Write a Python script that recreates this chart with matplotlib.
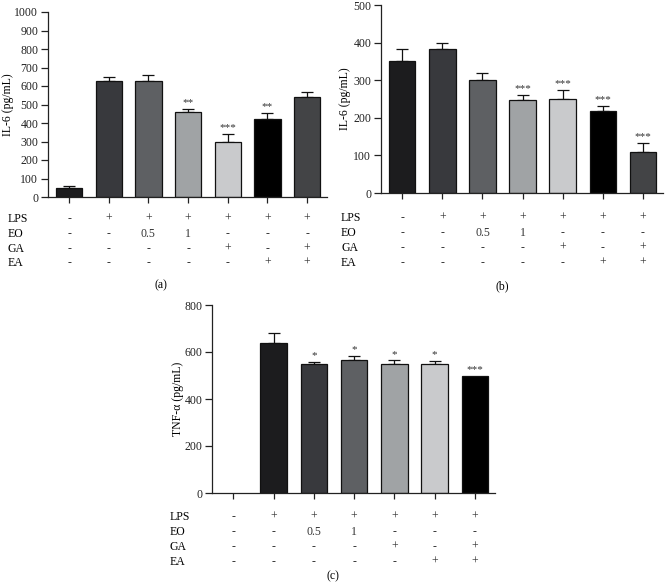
import matplotlib
matplotlib.use('Agg')
import matplotlib.pyplot as plt
import matplotlib.transforms as mtransforms

plt.rcParams['font.family'] = ['Liberation Serif', 'DejaVu Serif']

# treatment table rows (same for every panel)
row_names = ['LPS', 'EO', 'GA', 'EA']
rows = [['-', '+', '+', '+', '+', '+', '+'],
        ['-', '-', '0.5', '1', '-', '-', '-'],
        ['-', '-', '-', '-', '+', '-', '+'],
        ['-', '-', '-', '-', '-', '+', '+']]

# panel (a) IL-6
a_vals = [48, 627, 627, 458, 295, 420, 539]
a_err = [11, 22, 31, 19, 47, 34, 29]
a_stars = ['', '', '', '**', '***', '**', '']

# panel (b) IL-6
b_vals = [351, 382, 300, 247, 251, 217, 109]
b_err = [31, 18, 18, 14, 24, 15, 24]
b_stars = ['', '', '', '***', '***', '***', '***']

# panel (c) TNF-a
c_vals = [0, 637, 550, 567, 551, 551, 500]
c_err = [0, 42, 9, 16, 13, 12, 0]
c_stars = ['', '', '*', '*', '*', '*', '***']

a_colors = ['#1c1c1e', '#38393d', '#5e6063', '#a0a3a5', '#c9cacc', '#000000', '#434446']
c_colors = ['#ffffff', '#1c1c1e', '#38393d', '#5e6063', '#a0a3a5', '#c9cacc', '#000000']

W, H = 665, 588
fig = plt.figure(figsize=(W / 100, H / 100), dpi=100)


def px_axes(left, top, right, bottom):
    return fig.add_axes([left / W, 1 - bottom / H, (right - left) / W, (bottom - top) / H])


def panel(ax, vals, err, stars, colors, ymax, step, ylabel, star_off,
          row_x, row_y, ylab_x, tag, tag_xy, skip_first=False):
    x = list(range(len(vals)))
    ec = ['none' if (skip_first and i == 0) else '#111111' for i in x]
    ax.bar(x, vals, width=0.66, color=colors, edgecolor=ec, linewidth=0.9, zorder=2)
    for i in x:
        if err[i] > 0:
            ax.errorbar(i, vals[i], yerr=[[0], [err[i]]], fmt='none', ecolor='#111111',
                        elinewidth=0.9, capsize=4.5, capthick=0.9, zorder=1)
        if stars[i]:
            ax.text(i, vals[i] + err[i] + star_off, stars[i], ha='center', va='bottom',
                    fontsize=8, color='#333333')
    ax.set_xlim(-0.53, 6.5)
    ax.set_ylim(0, ymax)
    ax.set_yticks(range(0, ymax + 1, step))
    ax.set_xticks(x)
    ax.set_xticklabels([])
    for s in ['top', 'right']:
        ax.spines[s].set_visible(False)
    for s in ['left', 'bottom']:
        ax.spines[s].set_linewidth(0.9)
        ax.spines[s].set_color('#222222')
    ax.tick_params(axis='y', length=5, width=0.9, labelsize=8.5, pad=2, colors='#222222')
    ax.tick_params(axis='x', length=4, width=0.9, colors='#222222')

    # y label, placed in figure pixels
    lab_tr = mtransforms.blended_transform_factory(fig.transFigure, ax.transAxes)
    ax.text(ylab_x / W, 0.5, ylabel, transform=lab_tr, rotation=90,
            ha='center', va='center', fontsize=8.5)

    tr = mtransforms.blended_transform_factory(ax.transData, fig.transFigure)
    for r, name in enumerate(row_names):
        yy = 1 - row_y[r] / H
        fig.text(row_x / W, yy, name, ha='left', va='center', fontsize=8.5)
        for i in x:
            ax.text(i, yy, rows[r][i], transform=tr, ha='center', va='center',
                    fontsize=8.5, color='#333333', clip_on=False)
    fig.text(tag_xy[0] / W, 1 - tag_xy[1] / H, tag, ha='center', va='center', fontsize=8.5)


ax_a = px_axes(48, 12, 327, 197)
panel(ax_a, a_vals, a_err, a_stars, a_colors, 1000, 100, 'IL-6 (pg/mL)', 8,
      8, [219, 234, 249, 263], 8, '(a)', (161, 285))

ax_b = px_axes(381, 5, 663, 193)
panel(ax_b, b_vals, b_err, b_stars, a_colors, 500, 100, 'IL-6 (pg/mL)', 4,
      341, [218, 233, 248, 263], 345, '(b)', (502, 286))

ax_c = px_axes(212, 305, 495, 493)
panel(ax_c, c_vals, c_err, c_stars, c_colors, 800, 200, 'TNF-α (pg/mL)', 6,
      170, [517, 532, 547, 562], 178, '(c)', (333, 576), skip_first=True)

fig.savefig('out.png', dpi=100)
